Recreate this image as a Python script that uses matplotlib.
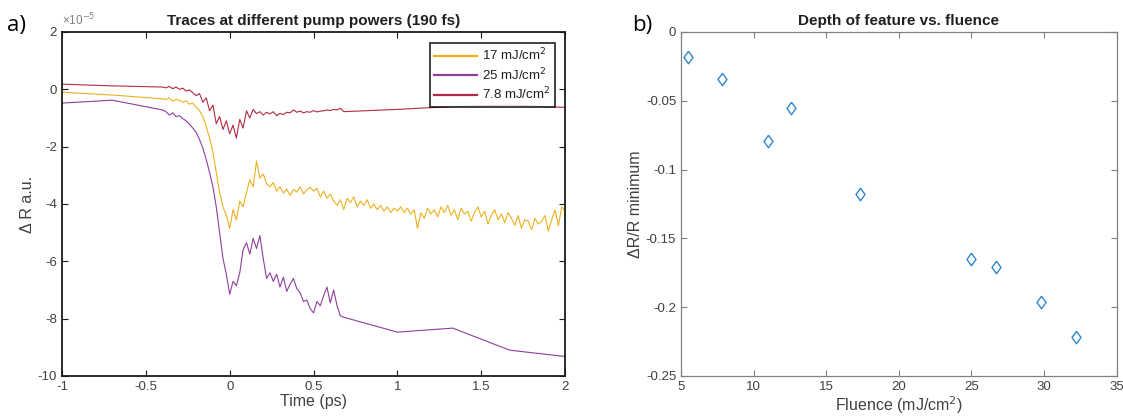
"""
Traces at different pump powers and depth of feature vs. fluence.
"""

import matplotlib
matplotlib.use("Agg")
import matplotlib.pyplot as plt

plt.rcParams["font.family"] = ["Liberation Sans", "DejaVu Sans"]

# --- traces (values in units of 1e-5) ---
t_78 = [-1.0, -0.7, -0.4, -0.38, -0.36, -0.34, -0.32, -0.30, -0.28, -0.26, -0.24, -0.22,
        -0.20, -0.18, -0.16, -0.14, -0.12, -0.10, -0.08, -0.06, -0.04, -0.02, 0.00,
        0.02, 0.04, 0.06, 0.08, 0.10, 0.12, 0.14, 0.16, 0.18, 0.20, 0.22, 0.24, 0.26,
        0.28, 0.30, 0.32, 0.34, 0.36, 0.38, 0.40, 0.42, 0.44, 0.46, 0.48, 0.50, 0.52,
        0.54, 0.56, 0.58, 0.60, 0.62, 0.64, 0.66, 0.68, 1.0, 1.33, 1.67, 2.0]
dr_78 = [0.18, 0.12, 0.08, 0.05, 0.10, 0.02, 0.08, 0.00, 0.04, -0.06, -0.02, -0.12,
         -0.22, -0.15, -0.45, -0.30, -0.75, -0.55, -1.20, -0.95, -1.40, -1.10, -1.55,
         -1.25, -1.70, -1.05, -1.35, -0.75, -1.00, -0.70, -0.85, -0.78, -0.90, -0.80,
         -0.86, -0.78, -0.92, -0.84, -0.88, -0.80, -0.82, -0.72, -0.80, -0.76, -0.82,
         -0.78, -0.80, -0.74, -0.79, -0.76, -0.75, -0.72, -0.74, -0.70, -0.72, -0.66,
         -0.78, -0.70, -0.60, -0.55, -0.63]

t_17 = [-1.0, -0.7, -0.4, -0.38, -0.36, -0.34, -0.32, -0.30, -0.28, -0.26, -0.24, -0.22,
        -0.20, -0.18, -0.16, -0.14, -0.12, -0.10, -0.08, -0.06, -0.04, -0.02, 0.00,
        0.02, 0.04, 0.06, 0.08, 0.10, 0.12, 0.14, 0.16, 0.18, 0.20, 0.22, 0.24, 0.26,
        0.28, 0.30, 0.32, 0.34, 0.36, 0.38, 0.40, 0.42, 0.44, 0.46, 0.48, 0.50, 0.52,
        0.54, 0.56, 0.58, 0.60, 0.62, 0.64, 0.66, 0.68, 0.70, 0.72, 0.74, 0.76, 0.78,
        0.80, 0.82, 0.84, 0.86, 0.88, 0.90, 0.92, 0.94, 0.96, 0.98, 1.00, 1.02, 1.04,
        1.06, 1.08, 1.10, 1.12, 1.14, 1.16, 1.18, 1.20, 1.22, 1.24, 1.26, 1.28, 1.30,
        1.32, 1.34, 1.36, 1.38, 1.40, 1.42, 1.44, 1.46, 1.48, 1.50, 1.52, 1.54, 1.56,
        1.58, 1.60, 1.62, 1.64, 1.66, 1.68, 1.70, 1.72, 1.74, 1.76, 1.78, 1.80, 1.82,
        1.84, 1.86, 1.88, 1.90, 1.92, 1.94, 1.96, 1.98, 2.00]
dr_17 = [-0.10, -0.20, -0.33, -0.36, -0.30, -0.42, -0.35, -0.38, -0.45, -0.40, -0.52,
         -0.48, -0.62, -0.75, -0.95, -1.30, -1.70, -2.20, -2.90, -3.60, -4.10, -4.40,
         -4.85, -4.20, -4.55, -3.90, -4.10, -3.60, -3.15, -3.40, -2.50, -3.10, -2.95,
         -3.30, -3.40, -3.25, -3.55, -3.40, -3.62, -3.48, -3.70, -3.50, -3.58, -3.40,
         -3.65, -3.50, -3.42, -3.55, -3.45, -3.75, -3.55, -3.80, -3.65, -3.90, -4.05,
         -3.85, -4.20, -3.80, -3.95, -3.75, -4.10, -3.90, -4.05, -3.85, -4.15, -4.00,
         -4.20, -4.05, -4.25, -4.10, -4.30, -4.15, -4.25, -4.10, -4.30, -4.15, -4.35,
         -4.20, -4.85, -4.30, -4.50, -4.15, -4.35, -4.20, -4.45, -4.10, -4.30, -4.05,
         -4.40, -4.20, -4.55, -4.15, -4.35, -4.25, -4.60, -4.30, -4.10, -4.45, -4.25,
         -4.70, -4.40, -4.20, -4.55, -4.35, -4.65, -4.30, -4.50, -4.75, -4.40, -4.85,
         -4.55, -4.60, -4.90, -4.50, -4.70, -4.60, -4.40, -4.95, -4.55, -4.20, -4.75,
         -4.10, -4.25]

t_25 = [-1.0, -0.7, -0.4, -0.38, -0.36, -0.34, -0.32, -0.30, -0.28, -0.26, -0.24, -0.22,
        -0.20, -0.18, -0.16, -0.14, -0.12, -0.10, -0.08, -0.06, -0.04, -0.02, 0.00,
        0.02, 0.04, 0.06, 0.08, 0.10, 0.12, 0.14, 0.16, 0.18, 0.20, 0.22, 0.24, 0.26,
        0.28, 0.30, 0.32, 0.34, 0.36, 0.38, 0.40, 0.42, 0.44, 0.46, 0.48, 0.50, 0.52,
        0.54, 0.56, 0.58, 0.60, 0.62, 0.64, 0.66, 0.68, 1.0, 1.33, 1.67, 2.0]
dr_25 = [-0.48, -0.38, -0.72, -0.78, -0.90, -0.82, -0.95, -0.92, -1.02, -1.10, -1.22,
         -1.35, -1.50, -1.75, -2.05, -2.45, -2.90, -3.40, -4.10, -5.00, -5.90, -6.45,
         -7.15, -6.70, -6.85, -6.40, -5.60, -5.35, -5.75, -5.20, -5.55, -5.10, -5.90,
         -6.60, -6.40, -6.70, -6.45, -6.90, -6.55, -7.05, -6.80, -6.60, -6.95, -7.10,
         -7.40, -7.35, -7.65, -7.80, -7.40, -7.55, -7.20, -6.90, -7.45, -7.00, -7.55,
         -7.90, -7.95, -8.47, -8.33, -9.10, -9.32]

# --- depth of feature ---
fluence = [5.5, 7.8, 11.0, 12.6, 17.3, 25.0, 26.7, 29.8, 32.2]
depth = [-0.018, -0.034, -0.079, -0.055, -0.118, -0.165, -0.171, -0.196, -0.222]

TXT = "#404040"


def matlab_style(ax, spine_color, spine_lw):
    ax.tick_params(direction="in", top=True, right=True, length=4, width=0.8,
                   labelsize=9.5, colors=spine_color, labelcolor=TXT)
    for s in ax.spines.values():
        s.set_color(spine_color)
        s.set_linewidth(spine_lw)


fig = plt.figure(figsize=(11.23, 4.18), dpi=100)

# --- a) traces ---
ax = fig.add_axes([0.0552, 0.1005, 0.448, 0.823])
ax.plot(t_17, dr_17, color="#EDB120", linewidth=0.8, label="17 mJ/cm$^2$")
ax.plot(t_25, dr_25, color="#8E3F9E", linewidth=0.8, label="25 mJ/cm$^2$")
ax.plot(t_78, dr_78, color="#B22A44", linewidth=0.8, label="7.8 mJ/cm$^2$")
ax.set_xlim(-1, 2)
ax.set_ylim(-10, 2)
ax.set_xticks([-1, -0.5, 0, 0.5, 1, 1.5, 2])
ax.set_xticklabels(["-1", "-0.5", "0", "0.5", "1", "1.5", "2"])
ax.set_yticks([-10, -8, -6, -4, -2, 0, 2])
ax.set_yticklabels(["-10", "-8", "-6", "-4", "-2", "0", "2"])
matlab_style(ax, "#1a1a1a", 1.3)
ax.set_xlabel("Time (ps)", fontsize=11.5, color=TXT, labelpad=1)
ax.set_ylabel("Δ R a.u.", fontsize=11.5, color=TXT, labelpad=2)
ax.set_title("Traces at different pump powers (190 fs)", fontsize=11,
             fontweight="bold", color="#202020", pad=5)
ax.text(0.0, 1.012, "×10$^{-5}$", transform=ax.transAxes, fontsize=8.5,
        color="#808080", ha="left", va="bottom")
leg = ax.legend(loc="upper right", fontsize=9.5, frameon=True, fancybox=False,
                borderaxespad=0.8, handlelength=3.2, handletextpad=0.4,
                labelspacing=0.2, borderpad=0.35)
leg.get_frame().set_edgecolor("black")
leg.get_frame().set_linewidth(1.3)
for line in leg.get_lines():
    line.set_linewidth(1.6)
for txt in leg.get_texts():
    txt.set_color("#202020")
fig.text(0.006, 0.925, "a)", fontsize=16, family=["Open Sans", "DejaVu Sans"])

# --- b) depth vs fluence ---
ax = fig.add_axes([0.6064, 0.1005, 0.388, 0.823])
diamond = [(0, 1), (0.72, 0), (0, -1), (-0.72, 0), (0, 1)]
ax.plot(fluence, depth, linestyle="none", marker=diamond, markersize=9,
        markerfacecolor="none", markeredgecolor="#2f87cc", markeredgewidth=1.0)
ax.set_xlim(5, 35)
ax.set_ylim(-0.25, 0)
ax.set_xticks([5, 10, 15, 20, 25, 30, 35])
ax.set_yticks([-0.25, -0.2, -0.15, -0.1, -0.05, 0])
ax.set_yticklabels(["-0.25", "-0.2", "-0.15", "-0.1", "-0.05", "0"])
matlab_style(ax, "#808080", 0.9)
ax.set_xlabel("Fluence (mJ/cm$^2$)", fontsize=11.5, color=TXT, labelpad=1)
ax.set_ylabel("ΔR/R minimum", fontsize=11.5, color=TXT, labelpad=2)
ax.set_title("Depth of feature vs. fluence", fontsize=11, fontweight="bold",
             color="#202020", pad=5)
fig.text(0.563, 0.925, "b)", fontsize=16, family=["Open Sans", "DejaVu Sans"])

fig.savefig("out.png", dpi=100)
